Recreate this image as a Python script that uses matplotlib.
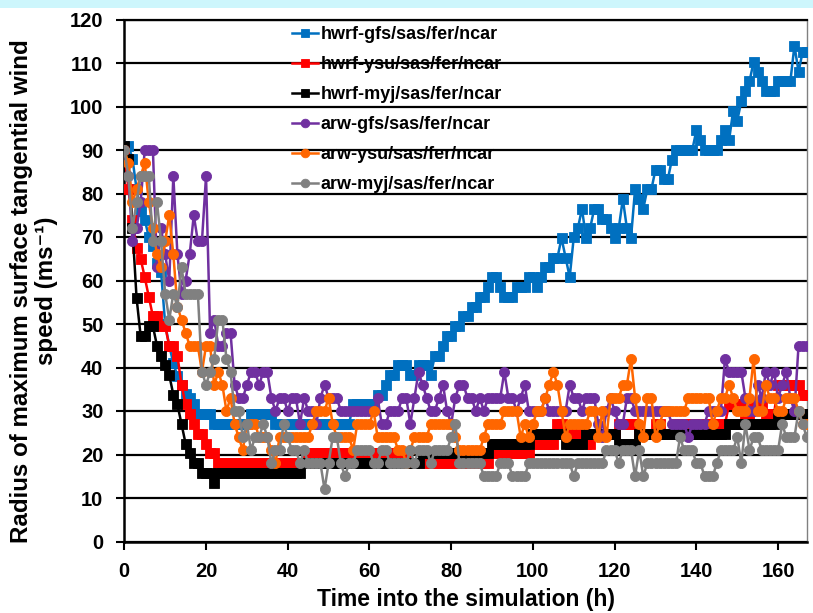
import matplotlib
matplotlib.use('Agg')
import matplotlib.pyplot as plt
from matplotlib.patches import Rectangle

plt.rcParams['font.family'] = ['Liberation Sans', 'DejaVu Sans']
plt.rcParams['font.weight'] = 'bold'

hours = list(range(0, 168))

hwrf_gfs = [90, 91, 88, 81, 76, 74, 70, 68, 64, 62,
            50, 45, 41, 38, 36, 34, 33, 31.5, 29.25, 29.25,
            29.25, 29.25, 27, 27, 27, 27, 27, 27, 27, 27,
            27, 29.25, 29.25, 29.25, 29.25, 29.25, 29.25, 27, 27, 27,
            27, 27, 27, 27, 27, 27, 27, 27, 27, 27,
            27, 27, 27, 27, 27, 27, 31.5, 31.5, 31.5, 31.5,
            31.5, 31.5, 33.75, 33.75, 36, 38.25, 38.25, 40.5, 40.5, 40.5,
            38.25, 38.25, 40.5, 40.5, 40.5, 38.25, 42.75, 42.75, 45, 47.25,
            47.25, 49.5, 49.5, 51.75, 51.75, 54, 54, 56.25, 56.25, 58.5,
            60.75, 60.75, 58.5, 56.25, 56.25, 56.25, 58.5, 58.5, 58.5, 60.75,
            60.75, 58.5, 60.75, 63, 63, 65.25, 65.25, 69.75, 65.25, 60.75,
            70, 72, 76.5, 69.75, 72, 76.5, 76.5, 74.25, 74.25, 72,
            69.75, 72, 78.75, 72, 69.75, 81, 78.75, 76.5, 81, 81,
            85.5, 85.5, 83.25, 83.25, 87.75, 90, 90, 90, 90, 90,
            94.5, 92.25, 90, 90, 90, 90, 92.25, 94.5, 92.25, 99,
            96.75, 101.25, 103.5, 105.75, 110.25, 108, 105.75, 103.5, 103.5, 103.5,
            105.75, 105.75, 105.75, 105.75, 114, 108, 112.5, 112.5]

hwrf_ysu = [90, 81, 74, 67.5, 65, 60.75, 56.25, 51.75, 51.75, 49.5,
            49.5, 45, 45, 42.75, 36, 31.5, 29.25, 27, 24.75, 24.75,
            22.5, 20.25, 20.25, 18, 18, 18, 18, 18, 18, 18,
            18, 18, 18, 18, 18, 18, 18, 18, 18, 18,
            18, 18, 18, 18, 18, 20.25, 20.25, 20.25, 20.25, 20.25,
            20.25, 20.25, 20.25, 20.25, 20.25, 20.25, 20.25, 20.25, 20.25, 20.25,
            20.25, 20.25, 20.25, 20.25, 20.25, 20.25, 20.25, 20.25, 20.25, 20.25,
            18, 18, 18, 18, 18, 18, 18, 18, 18, 18,
            18, 18, 18, 18, 18, 18, 18, 18, 18, 18,
            20.25, 20.25, 20.25, 20.25, 20.25, 20.25, 20.25, 20.25, 20.25, 20.25,
            22.5, 22.5, 22.5, 22.5, 22.5, 22.5, 27, 27, 24.75, 24.75,
            24.75, 24.75, 22.5, 22.5, 22.5, 24.75, 24.75, 24.75, 24.75, 24.75,
            24.75, 27, 27, 27, 27, 27, 24.75, 24.75, 24.75, 24.75,
            27, 27, 24.75, 24.75, 24.75, 27, 27, 27, 27, 27,
            27, 27, 27, 27, 27, 27, 27, 27, 31.5, 31.5,
            31.5, 31.5, 29.25, 29.25, 31.5, 31.5, 31.5, 29.25, 29.25, 29.25,
            36, 36, 36, 36, 36, 36, 33.75, 33.75]

hwrf_myj = [91, 88, 72, 56, 47.25, 47.25, 49.5, 49.5, 45, 42.75,
            40.5, 38.25, 33.75, 31.5, 27, 22.5, 20.25, 18, 18, 15.75,
            15.75, 15.75, 13.5, 15.75, 15.75, 15.75, 15.75, 15.75, 15.75, 15.75,
            15.75, 15.75, 15.75, 15.75, 15.75, 15.75, 15.75, 15.75, 15.75, 15.75,
            15.75, 15.75, 15.75, 15.75, 18, 18, 18, 18, 18, 18,
            18, 18, 18, 18, 18, 18, 18, 18, 18, 18,
            18, 18, 18, 18, 18, 18, 18, 18, 18, 18,
            18, 18, 18, 20.25, 20.25, 20.25, 20.25, 20.25, 20.25, 20.25,
            20.25, 20.25, 20.25, 20.25, 20.25, 20.25, 20.25, 20.25, 20.25, 20.25,
            22.5, 22.5, 22.5, 22.5, 22.5, 22.5, 22.5, 22.5, 22.5, 22.5,
            24.75, 24.75, 24.75, 24.75, 24.75, 24.75, 24.75, 24.75, 22.5, 22.5,
            22.5, 22.5, 22.5, 24.75, 24.75, 24.75, 24.75, 24.75, 24.75, 24.75,
            24.75, 22.5, 22.5, 22.5, 22.5, 22.5, 24.75, 24.75, 24.75, 24.75,
            24.75, 24.75, 24.75, 24.75, 24.75, 24.75, 24.75, 24.75, 24.75, 24.75,
            24.75, 24.75, 24.75, 24.75, 24.75, 24.75, 24.75, 24.75, 27, 27,
            27, 27, 27, 27, 27, 27, 27, 27, 27, 27,
            29.25, 29.25, 29.25, 29.25, 29.25, 29.25, 29.25, 29.25]

arw_gfs = [90, 84, 69, 72, 78, 90, 90, 90, 63, 72,
           66, 60, 84, 66, 57, 60, 66, 75, 69, 69,
           84, 48, 51, 45, 45, 48, 48, 36, 33, 33,
           36, 39, 39, 36, 39, 39, 33, 30, 33, 33,
           30, 33, 33, 27, 33, 30, 30, 27, 33, 36,
           33, 33, 33, 30, 30, 30, 30, 30, 30, 30,
           30, 30, 33, 27, 27, 30, 30, 30, 33, 33,
           27, 33, 39, 36, 33, 30, 30, 33, 36, 30,
           27, 33, 36, 36, 33, 33, 30, 33, 30, 33,
           33, 33, 33, 39, 33, 33, 30, 33, 36, 30,
           30, 30, 30, 33, 30, 30, 30, 30, 30, 36,
           33, 33, 30, 33, 33, 33, 27, 24, 30, 33,
           30, 27, 27, 33, 33, 30, 30, 30, 30, 30,
           30, 30, 30, 30, 27, 27, 27, 27, 24, 27,
           27, 27, 27, 30, 30, 30, 30, 42, 39, 39,
           39, 39, 33, 30, 30, 36, 33, 39, 36, 39,
           33, 36, 39, 33, 30, 45, 45, 45]

arw_ysu = [90, 87, 78, 81, 84, 87, 78, 72, 66, 63,
           69, 75, 66, 54, 51, 48, 45, 45, 45, 39,
           45, 45, 36, 39, 36, 30, 33, 27, 24, 21,
           27, 27, 27, 24, 24, 24, 21, 18, 24, 24,
           24, 24, 24, 24, 24, 24, 27, 30, 30, 30,
           33, 27, 24, 24, 24, 24, 21, 27, 27, 27,
           27, 30, 24, 24, 24, 24, 24, 21, 21, 18,
           21, 24, 24, 24, 24, 27, 27, 27, 27, 27,
           27, 24, 21, 21, 21, 21, 21, 21, 24, 27,
           27, 27, 27, 30, 30, 30, 30, 24, 27, 24,
           27, 30, 30, 33, 36, 39, 36, 30, 24, 27,
           27, 27, 27, 27, 30, 30, 24, 30, 24, 33,
           33, 33, 36, 36, 42, 33, 27, 24, 33, 33,
           24, 27, 30, 30, 30, 30, 30, 30, 33, 33,
           33, 33, 33, 33, 27, 30, 33, 33, 36, 33,
           30, 30, 30, 33, 42, 30, 30, 36, 33, 33,
           30, 30, 33, 33, 33, 30, 27, 27]

arw_myj = [90, 84, 72, 78, 84, 84, 84, 69, 78, 69,
           57, 51, 57, 54, 63, 57, 57, 57, 57, 39,
           36, 39, 42, 51, 51, 42, 39, 30, 30, 24,
           27, 21, 24, 24, 27, 24, 18, 21, 21, 27,
           24, 21, 21, 18, 21, 18, 18, 18, 18, 12,
           18, 24, 24, 18, 15, 18, 18, 21, 21, 21,
           21, 18, 18, 21, 21, 18, 18, 18, 18, 18,
           21, 18, 21, 21, 21, 18, 21, 21, 21, 21,
           24, 27, 18, 18, 18, 18, 18, 18, 15, 15,
           15, 15, 18, 18, 18, 15, 15, 15, 15, 18,
           18, 18, 18, 18, 18, 18, 18, 18, 18, 18,
           15, 18, 18, 18, 18, 18, 18, 18, 21, 21,
           21, 18, 21, 21, 21, 15, 21, 15, 18, 18,
           18, 18, 18, 18, 18, 18, 24, 21, 21, 21,
           18, 18, 15, 15, 15, 18, 21, 21, 21, 21,
           24, 18, 27, 21, 24, 24, 21, 21, 21, 21,
           21, 27, 24, 24, 24, 30, 27, 24]

labels = ['hwrf-gfs/sas/fer/ncar', 'hwrf-ysu/sas/fer/ncar', 'hwrf-myj/sas/fer/ncar',
          'arw-gfs/sas/fer/ncar', 'arw-ysu/sas/fer/ncar', 'arw-myj/sas/fer/ncar']
colors = ['#0070C0', '#FF0000', '#000000', '#7030A0', '#FF6600', '#808080']
markers = ['s', 's', 's', 'o', 'o', 'o']
series = [hwrf_gfs, hwrf_ysu, hwrf_myj, arw_gfs, arw_ysu, arw_myj]

fig = plt.figure(figsize=(8.13, 6.13), dpi=100)
fig.patches.append(Rectangle((0, 1 - 8 / 613), 1, 8 / 613, transform=fig.transFigure,
                             facecolor='#cdf6fc', edgecolor='none', zorder=0))
ax = fig.add_axes([124.3 / 813, 1 - 541.5 / 613, (806.7 - 124.3) / 813, (541.5 - 19.5) / 613])

for s, lab, c, m in zip(series, labels, colors, markers):
    ax.plot(hours, s, color=c, marker=m, markersize=7.3, markeredgewidth=0.6,
            markeredgecolor=c, lw=1.8, label=lab, clip_on=True, zorder=3)

ax.set_xlim(0, 167)
ax.set_ylim(0, 120)
ax.set_xticks(range(0, 161, 20))
ax.set_yticks(range(0, 121, 10))
ax.yaxis.grid(True, color='black', lw=1.6, zorder=1)
ax.set_axisbelow(True)
ax.tick_params(axis='both', labelsize=14.5, length=6, width=1.5, direction='out', pad=9)
for lab in ax.get_xticklabels() + ax.get_yticklabels():
    lab.set_fontweight('bold')
for side in ['left', 'bottom']:
    ax.spines[side].set_linewidth(1.8)
    ax.spines[side].set_color('black')
ax.spines['top'].set_linewidth(1.6)
ax.spines['right'].set_color('#808080')
ax.spines['right'].set_linewidth(1.0)

ax.set_xlabel('Time into the simulation (h)', fontsize=16.5, fontweight='bold', labelpad=5)
fig.text(34 / 813, 1 - 291 / 613,
         'Radius of maximum surface tangential wind\nspeed (ms\u207b\u00b9)',
         rotation=90, ha='center', va='center', fontsize=17.4, fontweight='bold',
         linespacing=1.12)

ax.legend(loc='upper left', bbox_to_anchor=(291.7 / 813, 1 - 26 / 613),
          bbox_transform=fig.transFigure, frameon=False, fontsize=13,
          handlelength=1.45, handletextpad=0.15, labelspacing=0.72,
          borderpad=0, borderaxespad=0, markerscale=0.85)

fig.savefig('out.png', dpi=100)
